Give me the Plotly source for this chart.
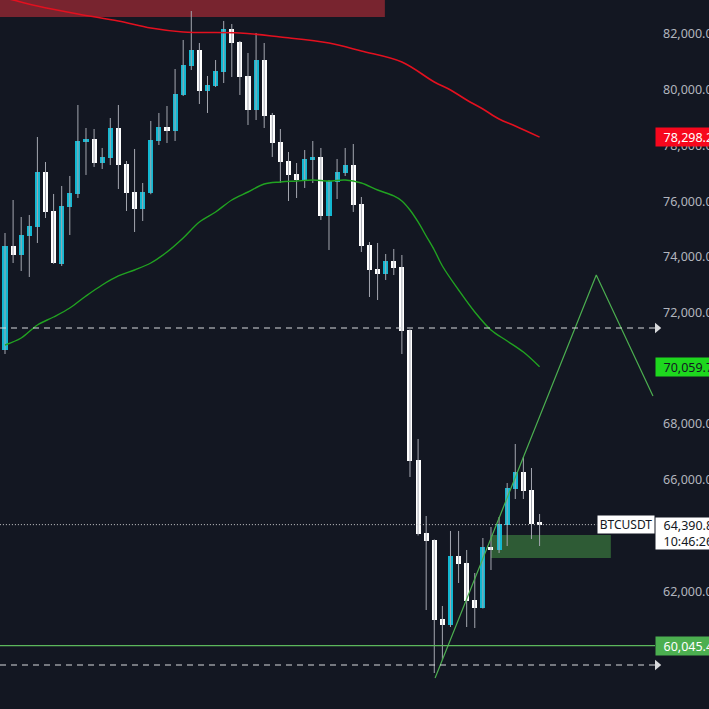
import plotly.graph_objects as go

# ---------------- data ----------------
opens = [70659, 74391, 74068, 74750, 75073, 77047, 75647, 73745, 75791, 76258,
         78124, 78232, 77370, 77550, 78626, 77334, 76329, 75719, 76293, 78160,
         78662, 78519, 79811, 80852, 81426, 79954, 80134, 80636, 82179, 81713,
         80493, 79272, 81067, 79093, 78124, 77442, 76975, 76760, 77478, 77586,
         75468, 76688, 77011, 77298, 75899, 74427, 73566, 73386, 73853, 73638,
         71377, 66711, 64091, 63840, 61004, 60789, 63265, 63014, 61686, 61399,
         63588, 63481, 64378, 65670, 66280, 65634, 64480]
highs = [74858, 76042, 75432, 75504, 78303, 77406, 76258, 76545, 76904, 79452,
         78626, 78590, 77909, 78985, 79452, 77442, 77873, 76652, 78878, 79165,
         79416, 80744, 81785, 82825, 81677, 80493, 81067, 82467, 82359, 81749,
         81318, 82036, 81677, 79165, 78590, 77765, 77370, 77837, 78160, 77909,
         76760, 77514, 77909, 78052, 76150, 74535, 74499, 74104, 74284, 74068,
         71400, 67465, 64701, 63860, 61471, 64163, 64163, 63481, 62655, 63911,
         64306, 64665, 65885, 67285, 66819, 66424, 64773]
lows = [70515, 73781, 73494, 73279, 74499, 75396, 73750, 73674, 74786, 76114,
        76940, 77227, 77155, 77298, 76437, 75647, 74894, 75289, 76250, 78016,
        78088, 78160, 79775, 80708, 79488, 79165, 80098, 80241, 80457, 79811,
        78734, 78913, 78626, 77586, 76652, 76006, 76114, 76473, 76652, 75324,
        74248, 76078, 76904, 75612, 74176, 72561, 72453, 73171, 73350, 70515,
        66101, 64000, 61327, 59066, 59533, 60717, 62296, 60717, 60681, 61380,
        62763, 63373, 63624, 65311, 65311, 63876, 63624]
closes = [74391, 74068, 74786, 75109, 77047, 75612, 73781, 75827, 76293, 78160,
          78232, 77370, 77586, 78626, 77298, 76293, 75719, 76329, 78196, 78662,
          78519, 79847, 80887, 81426, 79954, 80170, 80672, 82179, 81677, 80457,
          79272, 81067, 79057, 78088, 77406, 76940, 76760, 77514, 77586, 75468,
          76724, 77047, 77298, 75863, 74391, 73530, 73386, 73853, 73602, 71341,
          66675, 64055, 63804, 60968, 60789, 63265, 62978, 61650, 61399, 63588,
          63481, 64414, 65706, 66280, 65598, 64414, 64390.8]

ma_slow_idx = [0, 1, 4, 9, 14, 18, 22, 29, 34, 40, 44, 49, 53, 55, 57, 59, 61, 63, 66]
ma_slow_val = [83292, 83220, 83005, 82718, 82467, 82215, 82072, 82036, 81892, 81677,
               81390, 80995, 80277, 79990, 79631, 79308, 78949, 78698, 78298.2]

ma_fast_idx = [0, 2, 4, 6, 8, 10, 12, 14, 16, 18, 20, 22, 24, 26, 28, 30, 32, 34,
               36, 38, 40, 42, 44, 46, 48, 49, 50, 51, 52, 53, 54, 56, 58, 60, 62, 64, 66]
ma_fast_val = [70838, 71089, 71556, 71843, 72166, 72597, 72992, 73315, 73530, 73781,
               74176, 74679, 75253, 75612, 76042, 76329, 76616, 76688, 76724, 76760,
               76724, 76760, 76652, 76401, 76186, 76006, 75683, 75253, 74750, 74248,
               73674, 72812, 72023, 71377, 70982, 70587, 70059.7]

proj_x = [53.1, 73.0, 80.0]
proj_y = [58887, 73351, 69008]

zone_x = [60.0, 74.8]
zone_y = [63194, 64019]

top_zone_x = [-1, 46.9]
top_zone_y = [82610, 84500]

dash_levels = [71448, 59353]
support_level = 60045.4
last_price = 64390.8
last_time = "10:46:26"
symbol = "BTCUSDT"

# ticks that are not covered by a price label in the reference
tick_vals = [58000, 62000, 66000, 68000, 72000, 74000, 76000, 78000, 80000, 82000]
tick_text = ["58,000.0", "62,000.0", "66,000.0", "68,000.0",
             "72,000.0", "74,000.0", "76,000.0", "78,000.0", "80,000.0", "82,000.0"]

# ---------------- styles ----------------
BG = "#131722"
UP = "#12b8d2"
DOWN = "#ffffff"
WICK = "#a4a7b0"
FONT = "Noto Sans"
PAD = "\u00a0\u00a0"

n = len(opens)
idx = list(range(n))

fig = go.Figure()

shapes = []
shapes.append(dict(type="rect", xref="x", yref="y", x0=top_zone_x[0], x1=top_zone_x[1],
                   y0=top_zone_y[0], y1=top_zone_y[1], fillcolor="#78242f", line_width=0, layer="below"))
shapes.append(dict(type="rect", xref="x", yref="y", x0=zone_x[0], x1=zone_x[1],
                   y0=zone_y[0], y1=zone_y[1], fillcolor="#2e5b35", line_width=0, layer="below"))
for lv in dash_levels:
    shapes.append(dict(type="line", xref="paper", yref="y", x0=0, x1=1.0, y0=lv, y1=lv,
                       line=dict(color="#d8d9dc", width=1.2, dash="6px,5px")))
    shapes.append(dict(type="path", xref="paper", yref="y",
                       path=f"M 1.0,{lv+190} L 1.0095,{lv} L 1.0,{lv-190} Z",
                       fillcolor="#d8d9dc", line_width=0))
shapes.append(dict(type="line", xref="paper", yref="y", x0=0, x1=1.0, y0=support_level, y1=support_level,
                   line=dict(color="#5cb85c", width=1.2)))
shapes.append(dict(type="line", xref="x", yref="y", x0=-1, x1=73.1, y0=last_price, y1=last_price,
                   line=dict(color="#c8c9cc", width=1, dash="1px,2px")))

# wicks
wx, wy = [], []
for i in idx:
    wx += [i, i, None]
    wy += [lows[i], highs[i], None]
fig.add_trace(go.Scatter(x=wx, y=wy, mode="lines", line=dict(color=WICK, width=1), hoverinfo="skip"))

# bodies
bases = [min(o, c) for o, c in zip(opens, closes)]
heights = [max(abs(c - o), 45) for o, c in zip(opens, closes)]
colors = [UP if c > o else DOWN for o, c in zip(opens, closes)]
fig.add_trace(go.Bar(x=idx, y=heights, base=bases, width=0.62,
                     marker=dict(color=colors, line_width=0)))

# moving averages
fig.add_trace(go.Scatter(x=ma_slow_idx, y=ma_slow_val, mode="lines",
                         line=dict(color="#e3101f", width=1.6, shape="spline")))
fig.add_trace(go.Scatter(x=ma_fast_idx, y=ma_fast_val, mode="lines",
                         line=dict(color="#21a321", width=1.4, shape="spline")))

# projection
fig.add_trace(go.Scatter(x=proj_x, y=proj_y, mode="lines",
                         line=dict(color="#4caf50", width=1.2)))

annotations = []
def price_label(y, text, bg, fg, h=16):
    annotations.append(dict(xref="paper", yref="y", x=1.0, y=y, xanchor="left", yanchor="middle",
                            text=PAD + text, showarrow=False,
                            bgcolor=bg, font=dict(color=fg, size=12.5, family=FONT),
                            width=54, height=h, align="left", borderpad=1))

price_label(78298.2, "78,298.2", "#f7071d", "#ffffff")
price_label(70059.7, "70,059.7", "#1ed71e", "#131722")
price_label(support_level, "60,045.4", "#4caf50", "#ffffff")
annotations.append(dict(xref="paper", yref="y", x=1.0, y=last_price, xanchor="left", yanchor="top",
                        yshift=8, text=f"{PAD}64,390.8<br>{PAD}{last_time}", showarrow=False, bgcolor="#ffffff",
                        font=dict(color="#131722", size=12.5, family=FONT), width=54, height=29,
                        align="left", borderpad=1))
annotations.append(dict(xref="paper", yref="y", x=597/655, y=last_price, xanchor="left", yanchor="middle",
                        text=symbol, showarrow=False, bgcolor="#ffffff",
                        font=dict(color="#131722", size=12, family=FONT), width=54, height=15,
                        align="center", borderpad=1))

fig.update_layout(
    width=709, height=709,
    margin=dict(l=0, r=54, t=0, b=0, autoexpand=False),
    paper_bgcolor=BG, plot_bgcolor=BG,
    showlegend=False, barmode="overlay", bargap=0,
    shapes=shapes, annotations=annotations,
    xaxis=dict(range=[-0.617, 80.25], visible=False, fixedrange=True, automargin=False),
    yaxis=dict(range=[57774, 83220], side="right", showgrid=False, zeroline=False,
               tickvals=tick_vals, ticktext=tick_text, ticks="", showline=False,
               automargin=False,
               tickfont=dict(color="#b2b5be", size=12.5, family=FONT),
               ticklabelstandoff=7),
)

fig.write_html("out.html")
